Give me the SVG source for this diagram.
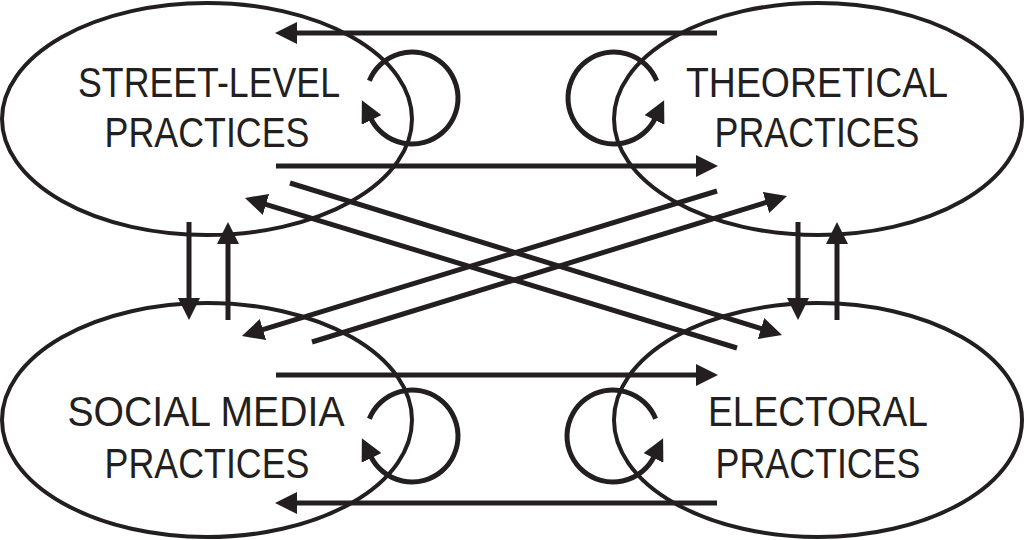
<svg xmlns="http://www.w3.org/2000/svg" width="1024" height="540" viewBox="0 0 1024 540">
<style>
.node ellipse{fill:none;stroke:#231f20;stroke-width:4}
.lbl{font-family:"Liberation Sans",Arial,sans-serif;font-size:42px;fill:#231f20;text-anchor:middle}
.conn path{fill:none;stroke:#231f20;stroke-width:5;marker-end:url(#ah)}
</style>
<defs>
<marker id="ah" markerUnits="userSpaceOnUse" viewBox="0 0 22 22" markerWidth="22" markerHeight="22" refX="2" refY="11" orient="auto">
<path d="M0,0 L22,11 L0,22 z" fill="#231f20"/>
</marker>
</defs>
<rect width="1024" height="540" fill="#fff"/>
<g id="street-level" class="node">
<ellipse cx="207" cy="119" rx="205" ry="116"/>
<text class="lbl" x="209" y="97" textLength="262" lengthAdjust="spacingAndGlyphs">STREET-LEVEL</text>
<text class="lbl" x="207" y="147" textLength="205" lengthAdjust="spacingAndGlyphs">PRACTICES</text>
</g>
<g id="theoretical" class="node">
<ellipse cx="818" cy="119" rx="204" ry="116"/>
<text class="lbl" x="817" y="97" textLength="262" lengthAdjust="spacingAndGlyphs">THEORETICAL</text>
<text class="lbl" x="817" y="147" textLength="205" lengthAdjust="spacingAndGlyphs">PRACTICES</text>
</g>
<g id="social-media" class="node">
<ellipse cx="207" cy="420" rx="205" ry="117"/>
<text class="lbl" x="206" y="426" textLength="277" lengthAdjust="spacingAndGlyphs">SOCIAL MEDIA</text>
<text class="lbl" x="207" y="478" textLength="205" lengthAdjust="spacingAndGlyphs">PRACTICES</text>
</g>
<g id="electoral" class="node">
<ellipse cx="818" cy="420" rx="204" ry="117"/>
<text class="lbl" x="818" y="426" textLength="220" lengthAdjust="spacingAndGlyphs">ELECTORAL</text>
<text class="lbl" x="818" y="478" textLength="205" lengthAdjust="spacingAndGlyphs">PRACTICES</text>
</g>
<g id="connectors" class="conn">
<path d="M717,33 L295,33"/>
<path d="M276,166 L698,166"/>
<path d="M276,375 L698,375"/>
<path d="M717,503 L295,503"/>
<path d="M189,222 L189,300"/>
<path d="M228,320 L228,242"/>
<path d="M798,222 L798,300"/>
<path d="M837,320 L837,242"/>
<path d="M290,183 L762.9,329.1"/>
<path d="M737,348 L264.1,203.8"/>
<path d="M717,191 L261.1,330.2"/>
<path d="M312,342 L767.9,201.9"/>
<path d="M369.35,80.77 A46,46 0 1 1 370.66,118.17"/>
<path d="M656.65,80.77 A46,46 0 1 0 655.34,118.17"/>
<path d="M369.35,418.77 A46,46 0 1 1 370.66,456.17"/>
<path d="M655.65,418.77 A46,46 0 1 0 654.34,456.17"/>
</g>
</svg>
